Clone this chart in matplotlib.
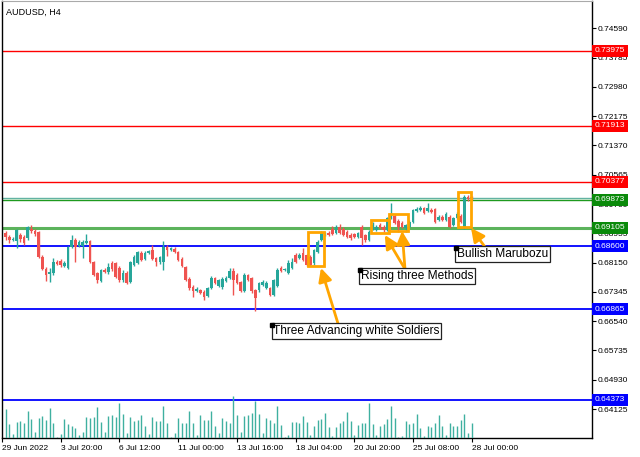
import numpy as np
import matplotlib
matplotlib.use("Agg")
import matplotlib.pyplot as plt
from matplotlib.patches import Rectangle

plt.rcParams['font.family'] = ['Liberation Sans', 'DejaVu Sans']

# === DATA (AUDUSD H4, 128 bars) ===
symbol = "AUDUSD, H4"

opens = [0.68963, 0.68853, 0.68770, 0.68743, 0.68908, 0.68853, 0.68825, 0.69073, 0.69018, 0.68990,
         0.68303, 0.67973, 0.67836, 0.67863, 0.68166, 0.68193, 0.68056, 0.68001, 0.68578, 0.68770,
         0.68605, 0.68605, 0.68688, 0.68743, 0.68166, 0.67863, 0.67643, 0.67946, 0.67891, 0.68138,
         0.68138, 0.68001, 0.67671, 0.67863, 0.67616, 0.68083, 0.68138, 0.68413, 0.68248, 0.68413,
         0.68495, 0.68276, 0.68166, 0.68166, 0.68578, 0.68495, 0.68523, 0.68440, 0.68248, 0.68028,
         0.67698, 0.67478, 0.67368, 0.67396, 0.67341, 0.67231, 0.67451, 0.67726, 0.67506, 0.67478,
         0.67643, 0.67726, 0.67918, 0.67808, 0.67616, 0.67368, 0.67808, 0.67726, 0.67396, 0.67396,
         0.67533, 0.67451, 0.67451, 0.67258, 0.67506, 0.68001, 0.67946, 0.67863, 0.68001, 0.68358,
         0.68276, 0.68413, 0.68358, 0.68303, 0.68138, 0.68440, 0.68770, 0.68880, 0.68963, 0.69073,
         0.68963, 0.69128, 0.69073, 0.68990, 0.68908, 0.68935, 0.68853, 0.69128, 0.68908, 0.68770,
         0.69073, 0.69045, 0.69183, 0.69128, 0.69045, 0.69375, 0.69430, 0.69293, 0.69238, 0.69100,
         0.69128, 0.69265, 0.69568, 0.69595, 0.69650, 0.69568, 0.69595, 0.69623, 0.69320, 0.69403,
         0.69320, 0.69403, 0.69183, 0.69375, 0.69430, 0.69100, 0.69953, 0.69953]
highs = [0.69018, 0.68908, 0.68853, 0.69073, 0.68963, 0.68908, 0.69155, 0.69183, 0.69073, 0.69018,
         0.68358, 0.68028, 0.68001, 0.68276, 0.68221, 0.68248, 0.68193, 0.68605, 0.68908, 0.68825,
         0.68770, 0.68770, 0.68935, 0.68770, 0.68193, 0.67891, 0.67973, 0.68001, 0.68138, 0.68193,
         0.68166, 0.68056, 0.67946, 0.67918, 0.68193, 0.68358, 0.68468, 0.68468, 0.68468, 0.68495,
         0.68633, 0.68303, 0.68330, 0.68743, 0.68633, 0.68578, 0.68578, 0.68468, 0.68303, 0.68056,
         0.67753, 0.67533, 0.67478, 0.67423, 0.67396, 0.67478, 0.67781, 0.67753, 0.67698, 0.67753,
         0.67781, 0.68001, 0.68001, 0.67863, 0.67643, 0.67863, 0.67836, 0.67753, 0.67423, 0.67616,
         0.67671, 0.67643, 0.67478, 0.67698, 0.68001, 0.68056, 0.68001, 0.68221, 0.68276, 0.68413,
         0.68413, 0.68550, 0.68385, 0.68358, 0.68523, 0.68770, 0.69018, 0.68990, 0.69018, 0.69155,
         0.69183, 0.69210, 0.69128, 0.69045, 0.68963, 0.68963, 0.68990, 0.69183, 0.68935, 0.69045,
         0.69265, 0.69183, 0.69238, 0.69183, 0.69403, 0.69788, 0.69485, 0.69348, 0.69293, 0.69210,
         0.69320, 0.69623, 0.69678, 0.69705, 0.69678, 0.69788, 0.69650, 0.69650, 0.69458, 0.69458,
         0.69540, 0.69458, 0.69403, 0.69540, 0.69485, 0.70007, 0.70007, 0.69980]
lows = [0.68770, 0.68688, 0.68743, 0.68550, 0.68715, 0.68633, 0.68770, 0.68963, 0.68880, 0.68276,
        0.67946, 0.67643, 0.67616, 0.67808, 0.68083, 0.68028, 0.68028, 0.67973, 0.68550, 0.68166,
        0.68578, 0.68276, 0.68660, 0.68138, 0.67781, 0.67588, 0.67616, 0.67863, 0.67836, 0.67918,
        0.67726, 0.67616, 0.67616, 0.67561, 0.67588, 0.68056, 0.68111, 0.68193, 0.68221, 0.68385,
        0.68221, 0.68056, 0.68111, 0.67946, 0.68330, 0.68468, 0.68413, 0.68193, 0.68028, 0.67643,
        0.67396, 0.67203, 0.67341, 0.67286, 0.67121, 0.67203, 0.67423, 0.67561, 0.67478, 0.67423,
        0.67616, 0.67698, 0.67258, 0.67561, 0.67341, 0.67341, 0.67643, 0.67313, 0.66819, 0.67341,
        0.67506, 0.67423, 0.67231, 0.67231, 0.67478, 0.67891, 0.67918, 0.67836, 0.67973, 0.68138,
        0.68248, 0.68193, 0.68056, 0.68056, 0.68083, 0.68413, 0.68743, 0.68880, 0.68880, 0.68908,
        0.68935, 0.68935, 0.68880, 0.68825, 0.68770, 0.68825, 0.68825, 0.68633, 0.68715, 0.68743,
        0.69045, 0.69018, 0.69073, 0.68990, 0.69018, 0.69348, 0.69210, 0.68990, 0.69100, 0.68990,
        0.69100, 0.69238, 0.69540, 0.69568, 0.69485, 0.69540, 0.69513, 0.69238, 0.69293, 0.69293,
        0.69293, 0.69100, 0.69155, 0.69348, 0.69238, 0.69073, 0.69843, 0.69870]
closes = [0.68853, 0.68770, 0.68798, 0.69045, 0.68798, 0.68688, 0.69128, 0.69018, 0.68935, 0.68303,
          0.67973, 0.67808, 0.67891, 0.68166, 0.68111, 0.68083, 0.68138, 0.68578, 0.68770, 0.68578,
          0.68715, 0.68715, 0.68743, 0.68166, 0.67808, 0.67671, 0.67946, 0.67891, 0.68028, 0.67973,
          0.67753, 0.67671, 0.67863, 0.67588, 0.68166, 0.68303, 0.68440, 0.68221, 0.68413, 0.68468,
          0.68248, 0.68166, 0.68303, 0.68578, 0.68495, 0.68550, 0.68440, 0.68221, 0.68056, 0.67671,
          0.67451, 0.67368, 0.67423, 0.67313, 0.67203, 0.67451, 0.67726, 0.67588, 0.67671, 0.67698,
          0.67726, 0.67918, 0.67671, 0.67588, 0.67368, 0.67808, 0.67671, 0.67368, 0.67176, 0.67588,
          0.67616, 0.67588, 0.67258, 0.67671, 0.67946, 0.67918, 0.67973, 0.68138, 0.68166, 0.68166,
          0.68358, 0.68221, 0.68083, 0.68083, 0.68495, 0.68715, 0.68963, 0.68935, 0.68908, 0.68935,
          0.69128, 0.68963, 0.68908, 0.68853, 0.68825, 0.68853, 0.68963, 0.68825, 0.68770, 0.68990,
          0.69183, 0.69128, 0.69100, 0.69045, 0.69375, 0.69458, 0.69238, 0.69128, 0.69128, 0.69183,
          0.69265, 0.69595, 0.69623, 0.69650, 0.69513, 0.69650, 0.69540, 0.69265, 0.69403, 0.69320,
          0.69485, 0.69128, 0.69375, 0.69485, 0.69265, 0.69953, 0.69898, 0.69898]
volumes = [87, 42, 12, 49, 52, 44, 82, 57, 17, 59, 65, 54, 90, 44, 4, 11, 57, 42, 35, 29,
           9, 17, 62, 60, 62, 92, 49, 17, 65, 68, 62, 104, 71, 14, 62, 52, 54, 68, 35, 12,
           64, 52, 52, 95, 44, 4, 14, 59, 46, 44, 82, 46, 10, 68, 55, 54, 82, 36, 14, 60,
           52, 44, 125, 68, 19, 65, 68, 76, 112, 72, 14, 59, 54, 46, 95, 38, 4, 10, 48, 49,
           44, 65, 47, 9, 37, 54, 57, 74, 32, 7, 32, 45, 52, 79, 52, 10, 40, 46, 46, 104,
           42, 10, 37, 42, 57, 95, 59, 2, 7, 52, 42, 46, 72, 29, 7, 37, 34, 44, 68, 35,
           10, 44, 35, 36, 54, 71, 14, 46]

time_tick_bars = [-1, 15, 31, 47, 63, 79, 95, 111, 127]
time_tick_labels = ["29 Jun 2022", "3 Jul 20:00", "6 Jul 12:00", "11 Jul 00:00", "13 Jul 16:00",
                    "18 Jul 04:00", "20 Jul 20:00", "25 Jul 08:00", "28 Jul 00:00"]
price_ticks = [0.74590, 0.73785, 0.72980, 0.72175, 0.71370, 0.70565, 0.69760,
               0.68955, 0.68150, 0.67345, 0.66540, 0.65735, 0.64930, 0.64125]

red_levels = [0.73975, 0.71913, 0.70377]
green_levels = [0.69873, 0.69105]
blue_levels = [0.68600, 0.66865, 0.64373]
bid_price = 0.69925

# pattern boxes: (first bar, last bar, low, high)
pattern_boxes = [(82.4, 86.7, 0.68056, 0.68998),
                 (99.5, 104.4, 0.68963, 0.69320),
                 (104.4, 109.6, 0.69018, 0.69485),
                 (123.2, 126.7, 0.69136, 0.70098)]
pattern_names = ["Three Advancing white Soldiers", "Rising three Methods", "Bullish Marubozu"]
name_anchors = [(72.6, 0.66434), (96.5, 0.67946), (122.7, 0.68551)]
# arrows: (tail bar, tail price, head bar, head price)
arrows = [(90.5, 0.66489, 85.9, 0.68001),
          (108.8, 0.67973, 103.3, 0.68908),
          (108.8, 0.67973, 108.0, 0.69018),
          (130.6, 0.68578, 126.8, 0.69100)]

bull_color = '#26a69a'
bear_color = '#ef5350'
orange = '#ffa500'

fig = plt.figure(figsize=(6.4, 4.57), dpi=100)
ax = fig.add_axes([2 / 640, 19 / 457, 590 / 640, 437 / 457])
ax.set_xlim(-1.0, 159.75)
ax.set_ylim(0.63328, 0.75340)

# volume in the bottom of the same pane
axv = ax.twinx()
axv.set_ylim(0, 1311)
axv.set_yticks([])
for s in axv.spines.values():
    s.set_visible(False)
x = np.arange(len(closes))
axv.vlines(x, 0, volumes, color='#3fb0a0', lw=1)

# level lines
for lv in red_levels:
    ax.axhline(lv, color='#ff0000', lw=1, zorder=1)
ax.axhline(bid_price, color='#62b3a3', lw=1, zorder=1)
ax.axhline(green_levels[0], color='#1f9a1f', lw=1, zorder=1)
ax.axhline(green_levels[1], color='#5cb35c', lw=2.2, zorder=1)
for lv in blue_levels:
    ax.axhline(lv, color='#0000ff', lw=1.3, zorder=1)

# candles
for i in range(len(closes)):
    o, h, l, c = opens[i], highs[i], lows[i], closes[i]
    col = bull_color if c >= o else bear_color
    ax.vlines(i, l, h, color=col, lw=1, zorder=3)
    body = max(abs(c - o), 0.00012)
    ax.bar(i, body, bottom=min(o, c), width=0.72, color=col, lw=0, zorder=3)

# pattern boxes and arrows
for b0, b1, lo, hi in pattern_boxes:
    ax.add_patch(Rectangle((b0, lo), b1 - b0, hi - lo, fill=False, ec=orange, lw=2, zorder=5))
for tx, ty, hx, hy in arrows:
    ax.annotate('', xy=(hx, hy), xytext=(tx, ty),
                arrowprops=dict(arrowstyle='-|>,head_length=0.8,head_width=0.4',
                                color=orange, lw=2, shrinkA=0, shrinkB=0), zorder=6)
for name, (bx, by) in zip(pattern_names, name_anchors):
    ax.text(bx + 0.3, by, name, fontsize=8.6, ha='left', va='top', zorder=7,
            bbox=dict(boxstyle='square,pad=0.14', fc='white', ec='#222222', lw=0.9))
    ax.plot(bx, by, 's', color='black', ms=3.5, zorder=8)

# axes styling
ax.yaxis.tick_right()
ax.set_yticks(price_ticks)
ax.set_yticklabels([f"{p:.5f}" for p in price_ticks])
ax.tick_params(axis='y', direction='out', length=3, pad=1, labelsize=6, width=0.8)
ax.set_xticks(time_tick_bars)
ax.set_xticklabels(time_tick_labels, ha='left')
ax.tick_params(axis='x', direction='out', length=3, pad=2, labelsize=6, width=0.8)
for side in ['left', 'right', 'bottom']:
    ax.spines[side].set_color('black')
    ax.spines[side].set_linewidth(1)
ax.spines['top'].set_color('#aaaaaa')

# price labels on the right scale
def price_tag(level, color):
    ax.annotate(f"{level:.5f}", xy=(1.0, level), xycoords=('axes fraction', 'data'),
                xytext=(2, 0), textcoords='offset points', fontsize=6, color='white',
                ha='left', va='center', annotation_clip=False, zorder=20,
                bbox=dict(boxstyle='square,pad=0.3', fc=color, ec=color, lw=0))

for lv in red_levels:
    price_tag(lv, '#ff0000')
for lv in green_levels:
    price_tag(lv, '#0a8a0a')
for lv in blue_levels:
    price_tag(lv, '#0000ff')

ax.text(0.006, 0.985, symbol, transform=ax.transAxes, fontsize=6.5, ha='left', va='top')

fig.savefig("out.png", dpi=100, facecolor='white')
